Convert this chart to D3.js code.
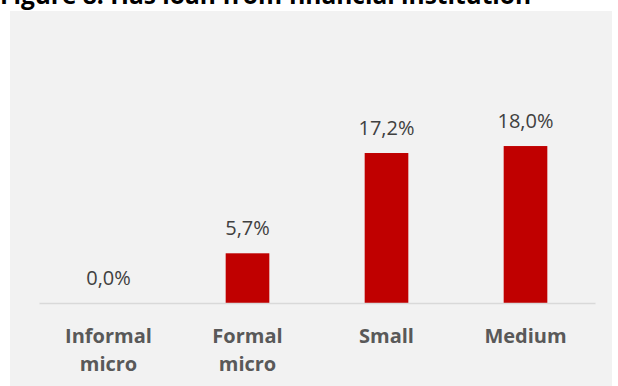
<!DOCTYPE html>
<html>
<head>
<meta charset="utf-8">
<script src="https://cdn.jsdelivr.net/npm/d3@7"></script>
<style>
  html, body { margin: 0; padding: 0; background: #ffffff; }
  svg { display: block; }
</style>
</head>
<body>
<svg id="chart" width="618" height="386"></svg>
<script>
// Share of firms with a loan from a financial institution, by firm type
const categories = [["Informal", "micro"], ["Formal", "micro"], ["Small"], ["Medium"]];
const values = [0.0, 5.7, 17.2, 18.0];
const valueLabels = ["0,0%", "5,7%", "17,2%", "18,0%"];
const titleText = "Figure 8: Has loan from financial institution";

const svg = d3.select("#chart");
const W = 618, H = 386;
const font = "'Open Sans', sans-serif";

// Title (partly clipped by the top edge)
svg.append("text")
  .attr("x", 0)
  .attr("y", 3.5)
  .attr("font-family", font)
  .attr("font-weight", 700)
  .attr("font-size", 24.5)
  .attr("fill", "#000000")
  .text(titleText);

// Chart panel
svg.append("rect")
  .attr("x", 10).attr("y", 11)
  .attr("width", 602).attr("height", H - 11)
  .attr("fill", "#f2f2f2");

const keys = categories.map(c => c.join(" "));
const x = d3.scaleBand()
  .domain(keys)
  .range([39, 595])
  .paddingInner(0.686)
  .paddingOuter(0.343);

const y = d3.scaleLinear().domain([0, 20]).range([303, 128.6]);

// Bars
svg.append("g").selectAll("rect")
  .data(values)
  .join("rect")
  .attr("x", (d, i) => x(keys[i]))
  .attr("width", x.bandwidth())
  .attr("y", d => y(d))
  .attr("height", d => y(0) - y(d))
  .attr("fill", "#c00000");

// Category axis
const axis = svg.append("g")
  .attr("transform", `translate(0,${y(0)})`)
  .call(d3.axisBottom(x).tickSize(0).tickFormat(""));
axis.select(".domain").attr("stroke", "#d9d9d9").attr("stroke-width", 1.5);

const catLabels = svg.append("g").selectAll("text")
  .data(categories)
  .join("text")
  .attr("x", (d, i) => x(keys[i]) + x.bandwidth() / 2)
  .attr("y", 343)
  .attr("text-anchor", "middle")
  .attr("font-family", font)
  .attr("font-weight", 700)
  .attr("font-size", 20)
  .attr("fill", "#595959");
catLabels.selectAll("tspan")
  .data(d => d)
  .join("tspan")
  .attr("x", function () { return d3.select(this.parentNode).attr("x"); })
  .attr("dy", (d, i) => i === 0 ? 0 : 28)
  .text(d => d);

// Value labels
svg.append("g").selectAll("text")
  .data(values)
  .join("text")
  .attr("x", (d, i) => x(keys[i]) + x.bandwidth() / 2)
  .attr("y", d => y(d) - 18)
  .attr("text-anchor", "middle")
  .attr("font-family", font)
  .attr("font-size", 20)
  .attr("fill", "#404040")
  .text((d, i) => valueLabels[i]);
</script>
</body>
</html>
